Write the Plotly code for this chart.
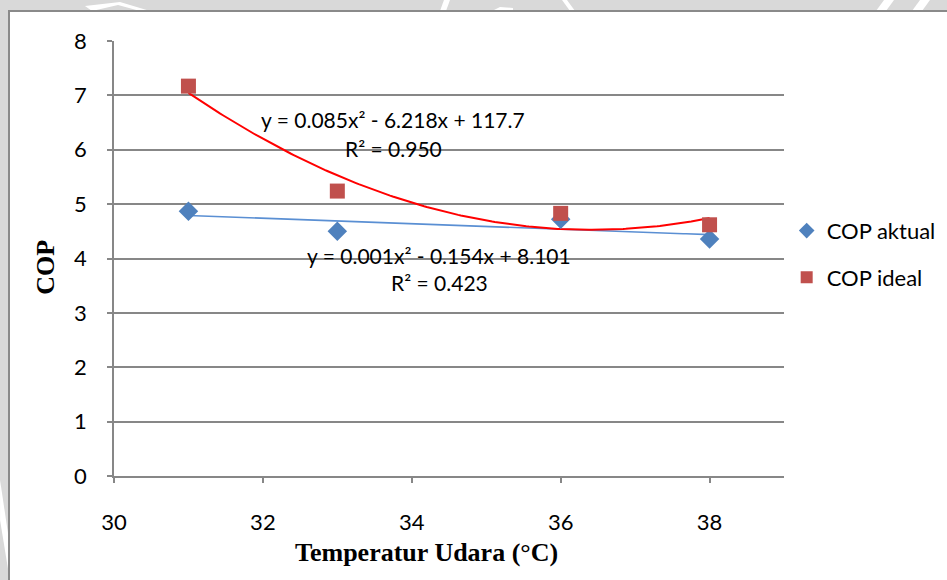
import numpy as np
import plotly.graph_objects as go

# Air temperature (°C) and coefficient of performance
temperatur = [31, 33, 36, 38]
cop_aktual = [4.87, 4.50, 4.72, 4.36]
cop_ideal = [7.17, 5.24, 4.83, 4.62]

x_ticks = [30, 32, 34, 36, 38]
y_ticks = [0, 1, 2, 3, 4, 5, 6, 7, 8]

eq_ideal = ["y = 0.085x² - 6.218x + 117.7", "R² = 0.950"]
eq_aktual = ["y = 0.001x² - 0.154x + 8.101", "R² = 0.423"]

BLUE = "#4f81bd"
RED = "#c0504d"
GRID = "#878787"
SANS = "Lato, Open Sans, sans-serif"
TICK_FONT = dict(family=SANS, size=22, color="#000000")
EQ_FONT = dict(family=SANS, size=21, color="#000000")
LEG_FONT = dict(family=SANS, size=22, color="#000000")
TITLE_FONT = dict(family="Liberation Serif, Times New Roman, serif", size=26, color="#000000")

W, H = 947, 580
M_L, M_R, M_T, M_B = 114, 163, 41, 104


def px(x, y):
    """Page pixel position -> paper coordinates."""
    return ((x - M_L) / (W - M_L - M_R), (H - M_B - y) / (H - M_T - M_B))


def poly_path(points):
    pts = [px(x, y) for x, y in points]
    return "M " + " L ".join(f"{a:.4f},{b:.4f}" for a, b in pts) + " Z"


# second-order polynomial trendlines
xs = np.linspace(min(temperatur), max(temperatur), 200)
fit_aktual = np.polyval(np.polyfit(temperatur, cop_aktual, 2), xs)
fit_ideal = np.polyval(np.polyfit(temperatur, cop_ideal, 2), xs)

fig = go.Figure()

fig.add_trace(go.Scatter(x=xs, y=fit_aktual, mode="lines",
                         line=dict(color="#5a8fd3", width=1.6),
                         showlegend=False, hoverinfo="skip"))
fig.add_trace(go.Scatter(x=xs, y=fit_ideal, mode="lines",
                         line=dict(color="#ff0000", width=2),
                         showlegend=False, hoverinfo="skip"))

fig.add_trace(go.Scatter(x=temperatur, y=cop_aktual, mode="markers",
                         marker=dict(symbol="diamond", size=15, color=BLUE),
                         showlegend=False))
fig.add_trace(go.Scatter(x=temperatur, y=cop_ideal, mode="markers",
                         marker=dict(symbol="square", size=15, color=RED),
                         showlegend=False))

# legend entries
fig.add_trace(go.Scatter(x=[None], y=[None], mode="markers", name="COP aktual",
                         legendgroup="a",
                         marker=dict(symbol="diamond", size=12, color=BLUE)))
fig.add_trace(go.Scatter(x=[None], y=[None], mode="markers", name="COP ideal",
                         legendgroup="b",
                         marker=dict(symbol="square", size=12, color=RED)))

# trendline equations
for txt, xx, yy in [(eq_ideal[0], 33.75, 6.55), (eq_ideal[1], 33.75, 6.03),
                    (eq_aktual[0], 34.37, 4.06), (eq_aktual[1], 34.37, 3.55)]:
    fig.add_annotation(x=xx, y=yy, text=txt, showarrow=False,
                       xanchor="center", yanchor="middle", font=EQ_FONT)

# axis titles
fig.add_annotation(xref="paper", yref="paper", x=-0.102, y=0.48, text="<b>COP</b>",
                   textangle=-90, showarrow=False, xanchor="center", yanchor="middle",
                   font=TITLE_FONT)
fig.add_annotation(xref="paper", yref="paper", x=0.467, y=-0.175,
                   text="<b>Temperatur Udara (°C)</b>", showarrow=False,
                   xanchor="center", yanchor="middle", font=TITLE_FONT)

# faint page watermark strokes around the chart box
for pts in [
    [(85, 6), (120, 2), (150, 11), (140, 11), (118, 5), (92, 11)],
    [(440, 11), (444, 0), (450, 0), (446, 11)],
    [(492, 11), (500, 7), (513, 8), (513, 11)],
    [(562, 0), (567, 0), (575, 11), (570, 11)],
    [(876, 11), (884, 0), (894, 0), (886, 11)],
    [(912, 11), (920, 0), (930, 0), (922, 11)],
    [(0, 480), (9, 540), (9, 575), (0, 520)],
]:
    fig.add_shape(type="path", xref="paper", yref="paper", layer="below",
                  path=poly_path(pts), fillcolor="#ffffff", line=dict(width=0))

# white chart box on grey page
x0, y1 = px(9, 11)
x1, y0 = px(1000, 640)
fig.add_shape(type="rect", xref="paper", yref="paper", layer="below",
              x0=x0, x1=x1, y0=y0, y1=y1,
              fillcolor="#ffffff", line=dict(color="#8a8a8a", width=2))

fig.update_layout(
    width=W, height=H,
    margin=dict(l=M_L, r=M_R, t=M_T, b=M_B, autoexpand=False),
    paper_bgcolor="#d9d9d9",
    plot_bgcolor="#ffffff",
    showlegend=True,
    legend=dict(x=1.004, y=0.612, xanchor="left", yanchor="top",
                font=LEG_FONT, bgcolor="rgba(0,0,0,0)",
                tracegroupgap=15, itemwidth=30),
)

fig.update_xaxes(range=[30, 39], tickvals=x_ticks, showgrid=False,
                 showline=True, linecolor=GRID, linewidth=1.5,
                 ticks="outside", ticklen=5, tickcolor=GRID, tickwidth=1.5,
                 ticklabelstandoff=21, tickfont=TICK_FONT, zeroline=False)
fig.update_yaxes(range=[0, 8], tickvals=y_ticks, showgrid=True,
                 gridcolor=GRID, gridwidth=1.5,
                 showline=True, linecolor=GRID, linewidth=1.5,
                 ticks="outside", ticklen=5, tickcolor=GRID, tickwidth=1.5,
                 ticklabelstandoff=16, tickfont=TICK_FONT, zeroline=False)

fig.write_html("out.html")
